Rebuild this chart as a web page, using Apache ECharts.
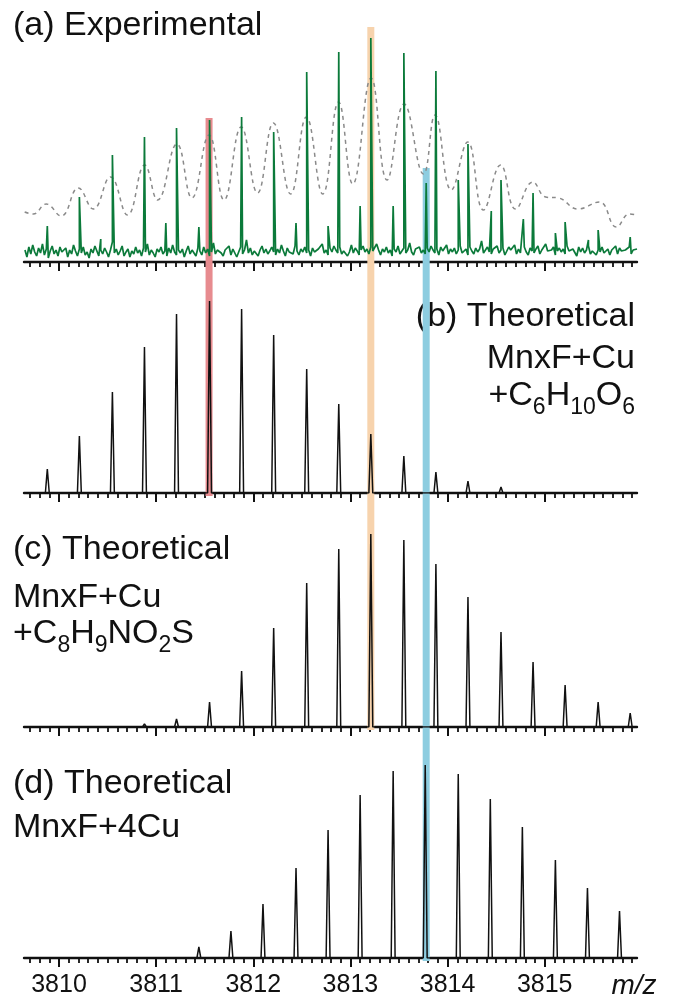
<!DOCTYPE html>
<html>
<head>
<meta charset="utf-8">
<title>isotope patterns</title>
<script src="https://cdn.jsdelivr.net/npm/echarts@6/dist/echarts.min.js"></script>
<style>
html,body{margin:0;padding:0;background:#fff;}
#chartContainer{width:673px;height:1000px;}
</style>
</head>
<body>
<div id="chartContainer"></div>
<script>
var myChart, option;

// x range (m/z) and labels
var mzMin = 3809.64, mzMax = 3815.95;
var tickLabels = ['3810', '3811', '3812', '3813', '3814', '3815'];

// (a) experimental: main isotope peaks
var expMainMz = [3809.88, 3810.21, 3810.55, 3810.88, 3811.21, 3811.55, 3811.88, 3812.21, 3812.55, 3812.88,
                 3813.21, 3813.55, 3813.88, 3814.21, 3814.55, 3814.88, 3815.21, 3815.55, 3815.88];
var expMainInt = [36, 65, 107, 125, 134, 142, 145, 130, 190, 210,
                  224, 209, 191, 118, 82, 69, 40, 32, 25];
// (a) experimental: second (shifted) series of peaks
var expMinorMz = [3810.43, 3811.10, 3811.44, 3812.44, 3812.77, 3813.10, 3813.44, 3813.78, 3814.11, 3814.45,
                  3814.78, 3815.11, 3815.45];
var expMinorInt = [23, 39, 35, 39, 36, 56, 56, 79, 82, 51,
                   43, 29, 22];
// (a) baseline noise, one value every noiseStep from noiseStart
var noiseStart = 3809.65, noiseStep = 0.02;
var noiseLevels = [
  12, 5, 15, 8, 17, 10, 6, 14, 9, 18,
  7, 13, 4, 11, 16, 8, 12, 6, 15, 10,
  9, 14, 5, 12, 8, 17, 11, 6, 13, 9,
  15, 7, 10, 4, 13, 9, 16, 11, 6, 12,
  8, 14, 10, 5, 12, 20, 9, 13, 7, 11,
  16, 6, 10, 13, 5, 11, 8, 15, 9, 12,
  6, 14, 10, 18, 7, 12, 9, 5, 13, 10,
  15, 8, 11, 6, 14, 9, 17, 10, 7, 12,
  9, 13, 5, 11, 16, 8, 12, 10, 6, 14,
  11, 7, 15, 9, 13, 6, 10, 19, 8, 12,
  14, 9, 6, 12, 10, 16, 7, 13, 11, 5,
  10, 15, 8, 12, 22, 9, 14, 7, 11, 13,
  6, 12, 16, 9, 13, 8, 11, 15, 10, 7,
  13, 9, 17, 11, 6, 14, 10, 12, 8, 16,
  11, 7, 13, 10, 15, 9, 12, 6, 14, 10,
  8, 13, 11, 18, 9, 12, 7, 14, 10, 16,
  12, 9, 15, 8, 11, 13, 6, 10, 17, 9,
  14, 11, 7, 12, 16, 10, 13, 8, 15, 11,
  9, 18, 12, 7, 13, 10, 15, 9, 12, 6,
  13, 10, 16, 8, 11, 14, 9, 12, 19, 10,
  7, 13, 11, 15, 9, 12, 8, 14, 10, 16,
  12, 9, 13, 7, 15, 11, 10, 17, 8, 13,
  10, 14, 8, 12, 16, 9, 11, 13, 7, 15,
  11, 8, 14, 10, 13, 21, 9, 12, 15, 10,
  8, 13, 11, 16, 9, 12, 14, 7, 11, 15,
  12, 10, 17, 8, 13, 9, 11, 15, 10, 7,
  14, 11, 9, 13, 16, 8, 12, 10, 18, 11,
  9, 12, 15, 7, 11, 14, 10, 13, 8, 16,
  11, 9, 13, 12, 6, 15, 10, 14, 9, 12,
  16, 8, 11, 13, 7, 12, 10, 15, 9, 11,
  13, 7, 12, 10, 16, 8, 14, 11, 9, 12,
  10, 15, 8, 12, 11, 13
];
// (a) low resolution envelope (dashed)
var envelopeMz = [3809.647, 3809.735, 3809.868, 3810.022, 3810.199, 3810.353, 3810.530, 3810.706, 3810.883, 3811.015,
                  3811.214, 3811.368, 3811.545, 3811.699, 3811.876, 3812.044, 3812.207, 3812.384, 3812.547, 3812.715,
                  3812.878, 3813.024, 3813.213, 3813.377, 3813.553, 3813.752, 3813.871, 3814.039, 3814.207, 3814.370,
                  3814.546, 3814.701, 3814.878, 3815.010, 3815.142, 3815.341, 3815.562, 3815.738, 3815.871, 3815.950];
var envelopeInt = [50, 48, 58, 46, 74, 53, 85, 47, 97, 62,
                   118, 64, 127, 62, 135, 69, 139, 68, 145, 68,
                   160, 78, 184, 82, 158, 88, 147, 72, 120, 52,
                   97, 53, 80, 65, 64, 53, 60, 35, 48, 47];

// (b) MnxF+Cu+C6H10O6
var theoBMz = [3809.88, 3810.21, 3810.55, 3810.88, 3811.21, 3811.55, 3811.88, 3812.21, 3812.55, 3812.88,
               3813.21, 3813.55, 3813.88, 3814.21, 3814.55, 3814.88, 3815.21];
var theoBInt = [24, 57, 101, 146, 179, 192, 184, 158, 124, 89,
                59, 37, 21, 12, 6, 2, 1];
// (c) MnxF+Cu+C8H9NO2S
var theoCMz = [3810.88, 3811.21, 3811.55, 3811.88, 3812.21, 3812.55, 3812.88, 3813.21, 3813.55, 3813.88,
               3814.21, 3814.55, 3814.88, 3815.21, 3815.55, 3815.88];
var theoCInt = [3, 8, 25, 56, 99, 144, 178, 193, 187, 163,
                130, 95, 65, 42, 25, 14];
// (d) MnxF+4Cu
var theoDMz = [3811.10, 3811.44, 3811.77, 3812.10, 3812.44, 3812.77, 3813.10, 3813.44, 3813.77, 3814.11,
               3814.44, 3814.77, 3815.11, 3815.44, 3815.77];
var theoDInt = [2, 11, 27, 54, 90, 128, 163, 187, 193, 184,
                159, 131, 98, 70, 47];

// highlight bands: centre m/z, top (panel a units), last panel reached
var bandMz = [3811.545, 3813.21, 3813.78];
var bandTop = [144, 235, 94];
var bandPanel = [1, 2, 3];

// layout
var W = 673;
var gridLeft = 24, gridRight = 36;
var panelBase = [262, 493, 727, 958];
var panelMax = [240, 200, 200, 200];
var bandColors = ['#e78b8f', '#f7d3ad', '#8dcde0'];
var bandHalf = 0.036;
var stickHalf = 0.02;
var txtFont = '"Liberation Sans", Arial, sans-serif';

var pxPerMz = (W - gridLeft - gridRight) / (mzMax - mzMin);
function mzX(v){
	return gridLeft + (v - mzMin) * pxPerMz;
}

//stick spectrum -> thin triangles
function stickData(mzs, ints){
	var d = [[mzMin, 0]];
	for (var i = 0; i < mzs.length; i++) {
		d.push([mzs[i] - stickHalf, 0], [mzs[i], ints[i]], [mzs[i] + stickHalf, 0]);
	}
	d.push([mzMax, 0]);
	return d;
}
//experimental trace = noise + peak apexes
function expData(){
	var d = [];
	for (var i = 0; i < noiseLevels.length; i++) {
		d.push([noiseStart + i * noiseStep, noiseLevels[i]]);
	}
	for (var j = 0; j < expMainMz.length; j++) d.push([expMainMz[j], expMainInt[j]]);
	for (var k = 0; k < expMinorMz.length; k++) d.push([expMinorMz[k], expMinorInt[k]]);
	d.sort(function(a, b){ return a[0] - b[0]; });
	return d;
}
function pairs(xs, ys){
	var d = [];
	for (var i = 0; i < xs.length; i++) d.push([xs[i], ys[i]]);
	return d;
}

function buildOption(){
	var grids = [], xAxes = [], yAxes = [];
	var minorL = mzX(3809.7), minorR = W - mzX(3815.9);
	var majorL = mzX(3810), majorR = W - mzX(3815);
	var i;
	//main grids: data + axis line
	for (i = 0; i < 4; i++) {
		grids.push({left: gridLeft, right: gridRight, top: panelBase[i] - panelMax[i], height: panelMax[i]});
		xAxes.push({type: 'value', gridIndex: i, min: mzMin, max: mzMax,
			axisLine: {show: true, onZero: false, lineStyle: {color: '#111', width: 2.4}},
			axisTick: {show: false}, axisLabel: {show: false}, splitLine: {show: false}});
		yAxes.push({type: 'value', gridIndex: i, min: 0, max: panelMax[i], show: false});
	}
	//minor ticks every 0.1
	for (i = 0; i < 4; i++) {
		grids.push({left: minorL, right: minorR, top: panelBase[i] - panelMax[i], height: panelMax[i]});
		xAxes.push({type: 'value', gridIndex: 4 + i, min: 3809.7, max: 3815.9, interval: 0.1,
			axisLine: {show: false},
			axisTick: {show: true, length: 5, lineStyle: {color: '#111', width: 1.8}},
			axisLabel: {show: false}, splitLine: {show: false}});
		yAxes.push({type: 'value', gridIndex: 4 + i, min: 0, max: 1, show: false});
	}
	//major ticks every 1
	for (i = 0; i < 4; i++) {
		grids.push({left: majorL, right: majorR, top: panelBase[i] - panelMax[i], height: panelMax[i]});
		xAxes.push({type: 'value', gridIndex: 8 + i, min: 3810, max: 3815, interval: 1,
			axisLine: {show: false},
			axisTick: {show: true, length: 9, lineStyle: {color: '#111', width: 2}},
			axisLabel: {show: i == 3, margin: 15, fontSize: 25, color: '#111', fontFamily: txtFont,
				formatter: function(v){ return tickLabels[Math.round(v - 3810)]; }},
			splitLine: {show: false}});
		yAxes.push({type: 'value', gridIndex: 8 + i, min: 0, max: 1, show: false});
	}

	var series = [
		{type: 'line', name: 'envelope', xAxisIndex: 0, yAxisIndex: 0, data: pairs(envelopeMz, envelopeInt),
			smooth: 0.45, showSymbol: false, symbol: 'none', z: 2,
			lineStyle: {color: '#8a8a8a', width: 1.5, type: [4, 4]}},
		{type: 'line', name: 'exp', xAxisIndex: 0, yAxisIndex: 0, data: expData(),
			showSymbol: false, symbol: 'none', z: 3,
			lineStyle: {color: '#0b7a3a', width: 1.7}},
		{type: 'line', name: 'b', xAxisIndex: 1, yAxisIndex: 1, data: stickData(theoBMz, theoBInt),
			showSymbol: false, symbol: 'none', z: 3, lineStyle: {color: '#111', width: 1.5}},
		{type: 'line', name: 'c', xAxisIndex: 2, yAxisIndex: 2, data: stickData(theoCMz, theoCInt),
			showSymbol: false, symbol: 'none', z: 3, lineStyle: {color: '#111', width: 1.5}},
		{type: 'line', name: 'd', xAxisIndex: 3, yAxisIndex: 3, data: stickData(theoDMz, theoDInt),
			showSymbol: false, symbol: 'none', z: 3, lineStyle: {color: '#111', width: 1.5}}
	];

	return {
		animation: false,
		backgroundColor: '#fff',
		grid: grids,
		xAxis: xAxes,
		yAxis: yAxes,
		series: series
	};
}

//text labels
function txt(id, x, y, text, align, rich){
	var st = {text: text, font: '34px ' + txtFont, fontSize: 34, fontFamily: txtFont, fill: '#111',
		align: align, textAlign: align, verticalAlign: 'middle', textVerticalAlign: 'middle'};
	if (rich) st.rich = rich;
	return {type: 'text', id: id, x: x, y: y, z: 0, style: st};
}
var subRich = {
	n: {fontSize: 34, fontFamily: txtFont, lineHeight: 44, color: '#111'},
	s: {fontSize: 23, fontFamily: txtFont, lineHeight: 23, padding: [24, 0, 0, 0], color: '#111'}
};

function buildGraphic(){
	var g = [];
	g.push(txt('ta', 13, 26, '(a) Experimental', 'left'));
	g.push(txt('tb1', 635, 317, '(b) Theoretical', 'right'));
	g.push(txt('tb2', 635, 359, 'MnxF+Cu', 'right'));
	g.push(txt('tb3', 635, 396, '{n|+C}{s|6}{n|H}{s|10}{n|O}{s|6}', 'right', subRich));
	g.push(txt('tc1', 13, 550, '(c) Theoretical', 'left'));
	g.push(txt('tc2', 13, 598, 'MnxF+Cu', 'left'));
	g.push(txt('tc3', 13, 634, '{n|+C}{s|8}{n|H}{s|9}{n|NO}{s|2}{n|S}', 'left', subRich));
	g.push(txt('td1', 13, 784, '(d) Theoretical', 'left'));
	g.push(txt('td2', 13, 828, 'MnxF+4Cu', 'left'));
	g.push({type: 'text', id: 'mz', x: 634, y: 986, z: 0,
		style: {text: 'm/z', font: 'italic 28px ' + txtFont, fill: '#111',
			align: 'center', textAlign: 'center', verticalAlign: 'middle', textVerticalAlign: 'middle'}});
	//coloured bands, placed with the axes' own conversion
	for (var i = 0; i < bandMz.length; i++) {
		var p1 = myChart.convertToPixel({gridIndex: 0}, [bandMz[i] - bandHalf, bandTop[i]]);
		var p2 = myChart.convertToPixel({gridIndex: bandPanel[i]}, [bandMz[i] + bandHalf, 0]);
		g.push({type: 'rect', id: 'band' + i, z: 1, silent: true,
			shape: {x: p1[0], y: p1[1], width: p2[0] - p1[0], height: p2[1] - p1[1] + 3},
			style: {fill: bandColors[i]}});
	}
	return g;
}

myChart = echarts.init(document.getElementById('chartContainer'), null, {renderer: 'canvas'});
option = buildOption();
myChart.setOption(option);
myChart.setOption({graphic: {elements: buildGraphic()}});
</script>
</body>
</html>
